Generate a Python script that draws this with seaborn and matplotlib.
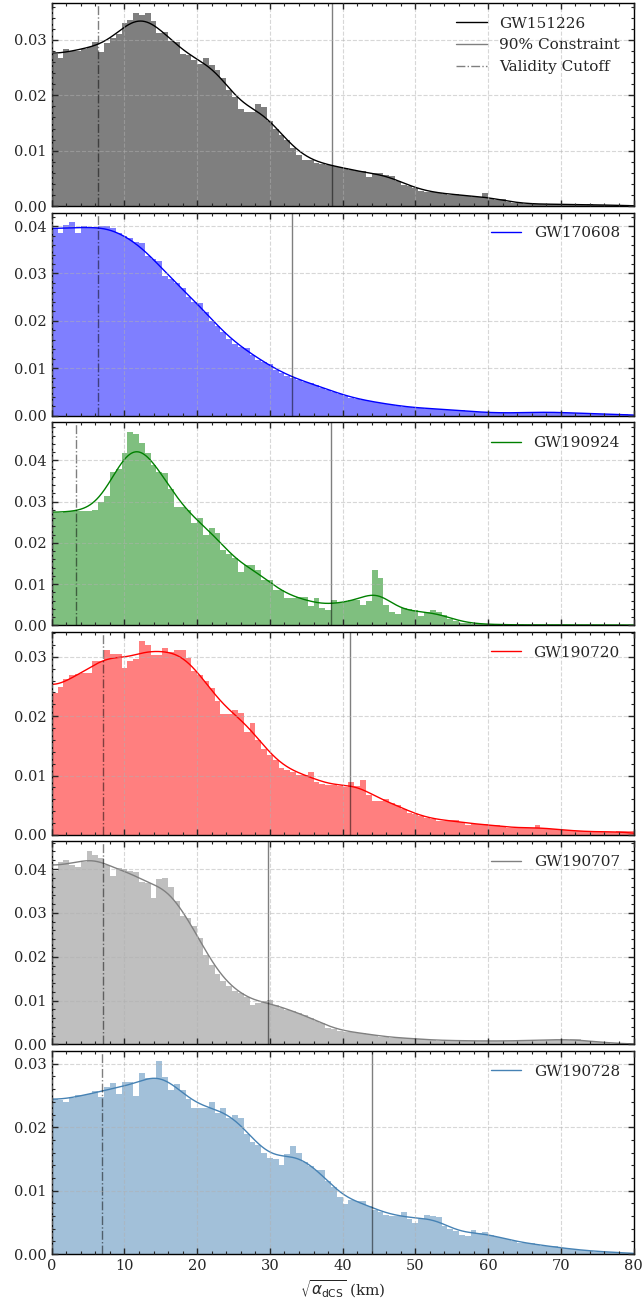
import numpy as np
import pandas as pd
import matplotlib
matplotlib.use("Agg")
import matplotlib.pyplot as plt
from matplotlib.ticker import MultipleLocator, AutoMinorLocator, FormatStrFormatter
import seaborn as sns

# ---- data -------------------------------------------------------------
n_bins = 100
x_range = (0.0, 80.0)          # 0.8 km wide bins

events = ["GW151226", "GW170608", "GW190924", "GW190720", "GW190707", "GW190728"]
colors = ["black", "blue", "green", "red", "gray", "steelblue"]
constraint_90 = [38.6, 33.1, 38.4, 41.0, 29.7, 44.0]
validity_cutoff = [6.3, 6.3, 3.4, 7.0, 7.0, 6.9]

dens_gw151226 = [
    0.0275, 0.0268, 0.0283, 0.0280, 0.0280, 0.0283, 0.0287, 0.0296, 0.0278, 0.0295,
    0.0304, 0.0311, 0.0330, 0.0336, 0.0349, 0.0345, 0.0348, 0.0334, 0.0313, 0.0314,
    0.0298, 0.0296, 0.0274, 0.0272, 0.0264, 0.0256, 0.0268, 0.0254, 0.0245, 0.0232,
    0.0209, 0.0197, 0.0176, 0.0170, 0.0170, 0.0185, 0.0179, 0.0154, 0.0140, 0.0128,
    0.0119, 0.0104, 0.0093, 0.0084, 0.0084, 0.0078, 0.0076, 0.0075, 0.0072, 0.0070,
    0.0068, 0.0066, 0.0064, 0.0063, 0.0053, 0.0060, 0.0060, 0.0057, 0.0054, 0.0046,
    0.0038, 0.0037, 0.0033, 0.0027, 0.0026, 0.0025, 0.0024, 0.0022, 0.0020, 0.0022,
    0.0020, 0.0018, 0.0017, 0.0016, 0.0023, 0.0012, 0.0011, 0.0012, 0.0008, 0.0006,
    0.0005, 0.0004, 0.0004, 0.0003, 0.0004, 0.0003, 0.0003, 0.0004, 0.0003, 0.0003,
    0.0003, 0.0002, 0.0003, 0.0002, 0.0002, 0.0002, 0.0001, 0.0002, 0.0001, 0.0001,
]
dens_gw170608 = [
    0.0395, 0.0386, 0.0402, 0.0408, 0.0386, 0.0400, 0.0395, 0.0398, 0.0400, 0.0400,
    0.0396, 0.0386, 0.0379, 0.0374, 0.0366, 0.0364, 0.0336, 0.0331, 0.0326, 0.0294,
    0.0289, 0.0280, 0.0269, 0.0251, 0.0239, 0.0237, 0.0219, 0.0200, 0.0190, 0.0176,
    0.0161, 0.0152, 0.0145, 0.0142, 0.0127, 0.0117, 0.0113, 0.0108, 0.0097, 0.0091,
    0.0083, 0.0080, 0.0076, 0.0072, 0.0068, 0.0064, 0.0059, 0.0055, 0.0051, 0.0046,
    0.0041, 0.0038, 0.0035, 0.0033, 0.0031, 0.0029, 0.0026, 0.0025, 0.0023, 0.0021,
    0.0019, 0.0018, 0.0016, 0.0016, 0.0015, 0.0015, 0.0014, 0.0014, 0.0013, 0.0012,
    0.0011, 0.0009, 0.0008, 0.0008, 0.0007, 0.0006, 0.0006, 0.0005, 0.0006, 0.0006,
    0.0006, 0.0007, 0.0007, 0.0007, 0.0008, 0.0007, 0.0008, 0.0007, 0.0006, 0.0006,
    0.0005, 0.0005, 0.0004, 0.0004, 0.0004, 0.0003, 0.0003, 0.0003, 0.0003, 0.0002,
]
dens_gw190924 = [
    0.0273, 0.0273, 0.0275, 0.0276, 0.0278, 0.0278, 0.0277, 0.0280, 0.0299, 0.0313,
    0.0372, 0.0380, 0.0418, 0.0469, 0.0463, 0.0443, 0.0418, 0.0388, 0.0372, 0.0370,
    0.0331, 0.0288, 0.0287, 0.0279, 0.0249, 0.0261, 0.0218, 0.0236, 0.0224, 0.0182,
    0.0172, 0.0164, 0.0129, 0.0145, 0.0145, 0.0133, 0.0109, 0.0109, 0.0085, 0.0085,
    0.0067, 0.0065, 0.0069, 0.0068, 0.0046, 0.0065, 0.0041, 0.0038, 0.0062, 0.0053,
    0.0057, 0.0061, 0.0061, 0.0049, 0.0058, 0.0134, 0.0114, 0.0049, 0.0032, 0.0027,
    0.0041, 0.0039, 0.0037, 0.0023, 0.0032, 0.0037, 0.0032, 0.0024, 0.0016, 0.0010,
    0.0006, 0.0005, 0.0004, 0.0003, 0.0002, 0.0002, 0.0002, 0.0002, 0.0001, 0.0001,
    0.0001, 0.0001, 0.0001, 0.0001, 0.0001, 0.0001, 0.0001, 0.0001, 0.0001, 0.0001,
    0.0001, 0.0001, 0.0001, 0.0001, 0.0001, 0.0001, 0.0001, 0.0001, 0.0001, 0.0001,
]
dens_gw190720 = [
    0.0239, 0.0250, 0.0262, 0.0270, 0.0271, 0.0273, 0.0273, 0.0293, 0.0293, 0.0312,
    0.0305, 0.0305, 0.0282, 0.0293, 0.0296, 0.0326, 0.0320, 0.0303, 0.0303, 0.0315,
    0.0308, 0.0312, 0.0312, 0.0298, 0.0277, 0.0270, 0.0260, 0.0248, 0.0226, 0.0204,
    0.0204, 0.0211, 0.0205, 0.0174, 0.0189, 0.0160, 0.0144, 0.0135, 0.0127, 0.0113,
    0.0110, 0.0106, 0.0101, 0.0101, 0.0106, 0.0089, 0.0085, 0.0084, 0.0084, 0.0082,
    0.0080, 0.0089, 0.0083, 0.0093, 0.0068, 0.0057, 0.0057, 0.0060, 0.0053, 0.0051,
    0.0044, 0.0037, 0.0035, 0.0031, 0.0028, 0.0027, 0.0024, 0.0023, 0.0025, 0.0025,
    0.0022, 0.0017, 0.0018, 0.0018, 0.0018, 0.0016, 0.0016, 0.0015, 0.0012, 0.0011,
    0.0011, 0.0011, 0.0012, 0.0016, 0.0011, 0.0010, 0.0010, 0.0008, 0.0008, 0.0007,
    0.0006, 0.0006, 0.0005, 0.0005, 0.0005, 0.0005, 0.0005, 0.0006, 0.0006, 0.0006,
]
dens_gw190707 = [
    0.0395, 0.0417, 0.0420, 0.0409, 0.0405, 0.0415, 0.0441, 0.0433, 0.0424, 0.0409,
    0.0385, 0.0402, 0.0399, 0.0395, 0.0393, 0.0371, 0.0368, 0.0335, 0.0377, 0.0380,
    0.0358, 0.0326, 0.0292, 0.0288, 0.0271, 0.0242, 0.0203, 0.0182, 0.0161, 0.0144,
    0.0133, 0.0121, 0.0117, 0.0108, 0.0089, 0.0094, 0.0098, 0.0102, 0.0090, 0.0083,
    0.0079, 0.0076, 0.0072, 0.0068, 0.0061, 0.0053, 0.0050, 0.0038, 0.0035, 0.0031,
    0.0029, 0.0028, 0.0027, 0.0027, 0.0023, 0.0021, 0.0018, 0.0018, 0.0015, 0.0015,
    0.0015, 0.0014, 0.0013, 0.0012, 0.0011, 0.0010, 0.0009, 0.0009, 0.0009, 0.0009,
    0.0009, 0.0008, 0.0008, 0.0008, 0.0008, 0.0008, 0.0008, 0.0008, 0.0008, 0.0008,
    0.0009, 0.0009, 0.0009, 0.0009, 0.0011, 0.0011, 0.0011, 0.0011, 0.0011, 0.0012,
    0.0012, 0.0008, 0.0008, 0.0005, 0.0005, 0.0005, 0.0002, 0.0002, 0.0002, 0.0002,
]
dens_gw190728 = [
    0.0245, 0.0243, 0.0240, 0.0246, 0.0251, 0.0251, 0.0252, 0.0257, 0.0248, 0.0263,
    0.0269, 0.0252, 0.0272, 0.0271, 0.0250, 0.0285, 0.0278, 0.0278, 0.0305, 0.0279,
    0.0259, 0.0268, 0.0259, 0.0245, 0.0230, 0.0230, 0.0230, 0.0239, 0.0222, 0.0231,
    0.0215, 0.0220, 0.0215, 0.0190, 0.0177, 0.0172, 0.0160, 0.0152, 0.0150, 0.0140,
    0.0157, 0.0171, 0.0160, 0.0145, 0.0139, 0.0133, 0.0132, 0.0115, 0.0105, 0.0090,
    0.0079, 0.0085, 0.0084, 0.0084, 0.0076, 0.0070, 0.0067, 0.0061, 0.0060, 0.0060,
    0.0066, 0.0055, 0.0049, 0.0055, 0.0062, 0.0060, 0.0058, 0.0045, 0.0039, 0.0036,
    0.0030, 0.0029, 0.0038, 0.0033, 0.0034, 0.0030, 0.0027, 0.0025, 0.0023, 0.0021,
    0.0017, 0.0017, 0.0017, 0.0015, 0.0013, 0.0012, 0.0012, 0.0009, 0.0009, 0.0008,
    0.0006, 0.0006, 0.0005, 0.0004, 0.0004, 0.0003, 0.0003, 0.0002, 0.0002, 0.0002,
]
densities = [dens_gw151226, dens_gw170608, dens_gw190924,
             dens_gw190720, dens_gw190707, dens_gw190728]

# ---- style ------------------------------------------------------------
sns.set_style("ticks")
plt.rcParams["font.family"] = ["serif"]
plt.rcParams["font.serif"] = ["DejaVu Serif"]
plt.rcParams["mathtext.fontset"] = "dejavusans"
plt.rcParams["axes.linewidth"] = 1.0
plt.rcParams["xtick.major.width"] = 1.0
plt.rcParams["ytick.major.width"] = 1.0
plt.rcParams["xtick.minor.width"] = 0.8
plt.rcParams["ytick.minor.width"] = 0.8

bin_edges = np.linspace(x_range[0], x_range[1], n_bins + 1)
bin_centers = 0.5 * (bin_edges[:-1] + bin_edges[1:])
bin_widths = np.diff(bin_edges)
grid = np.linspace(0.0, 80.0, 801)


def reflected_kde(heights, x, bw):
    """Gaussian KDE of the binned density, reflected about zero."""
    mass = np.asarray(heights) * bin_widths
    d = x[:, None]
    k = (np.exp(-0.5 * ((d - bin_centers) / bw) ** 2)
         + np.exp(-0.5 * ((d + bin_centers) / bw) ** 2))
    return (k * mass).sum(axis=1) / (bw * np.sqrt(2 * np.pi))


fig = plt.figure(figsize=(6.44, 13.04), dpi=100)
gs = fig.add_gridspec(6, 1, left=0.0803, right=0.9837, top=0.9977,
                      bottom=0.0383, hspace=0.032)
axes = [fig.add_subplot(gs[i]) for i in range(6)]

for i, ax in enumerate(axes):
    dens = np.asarray(densities[i])
    col = colors[i]
    hist_df = pd.DataFrame({"x": bin_centers, "w": dens})
    sns.histplot(data=hist_df, x="x", weights="w", bins=n_bins,
                 binrange=x_range, stat="count", color=col, alpha=0.5,
                 linewidth=0, ax=ax)
    kde_df = pd.DataFrame({"x": grid, "y": reflected_kde(dens, grid, 2.0)})
    sns.lineplot(data=kde_df, x="x", y="y", color=col, linewidth=1.0,
                 label=events[i], ax=ax, legend=False)
    if i == 0:
        ax.axvline(constraint_90[i], color="k", alpha=0.5, linewidth=1.0,
                   label="90% Constraint")
        ax.axvline(validity_cutoff[i], color="k", alpha=0.5, linewidth=1.0,
                   linestyle="-.", label="Validity Cutoff")
    else:
        ax.axvline(constraint_90[i], color="k", alpha=0.5, linewidth=1.0)
        ax.axvline(validity_cutoff[i], color="k", alpha=0.5, linewidth=1.0,
                   linestyle="-.")

    ax.set_xlim(0, 80)
    ax.set_ylabel("")
    ax.set_xlabel("")
    ax.xaxis.set_major_locator(MultipleLocator(10))
    ax.xaxis.set_minor_locator(AutoMinorLocator(5))
    ax.yaxis.set_major_locator(MultipleLocator(0.01))
    ax.yaxis.set_minor_locator(AutoMinorLocator(5))
    ax.yaxis.set_major_formatter(FormatStrFormatter("%.2f"))
    ax.tick_params(which="both", direction="in", top=True, right=True,
                   labelsize=10.5)
    ax.tick_params(which="major", length=4.5)
    ax.tick_params(which="minor", length=2.5)
    ax.grid(True, which="major", linestyle="--", color="#b0b0b0",
            linewidth=0.8, alpha=0.5)
    ax.set_axisbelow(False)
    for s in ax.spines.values():
        s.set_visible(True)
        s.set_color("black")
    if i < 5:
        ax.tick_params(labelbottom=False)
    ax.legend(loc="upper right", frameon=False, fontsize=11)

axes[-1].set_xlabel(r"$\sqrt{\alpha_{\mathrm{dCS}}}$ (km)", fontsize=11)

fig.savefig("out.png", dpi=100)
